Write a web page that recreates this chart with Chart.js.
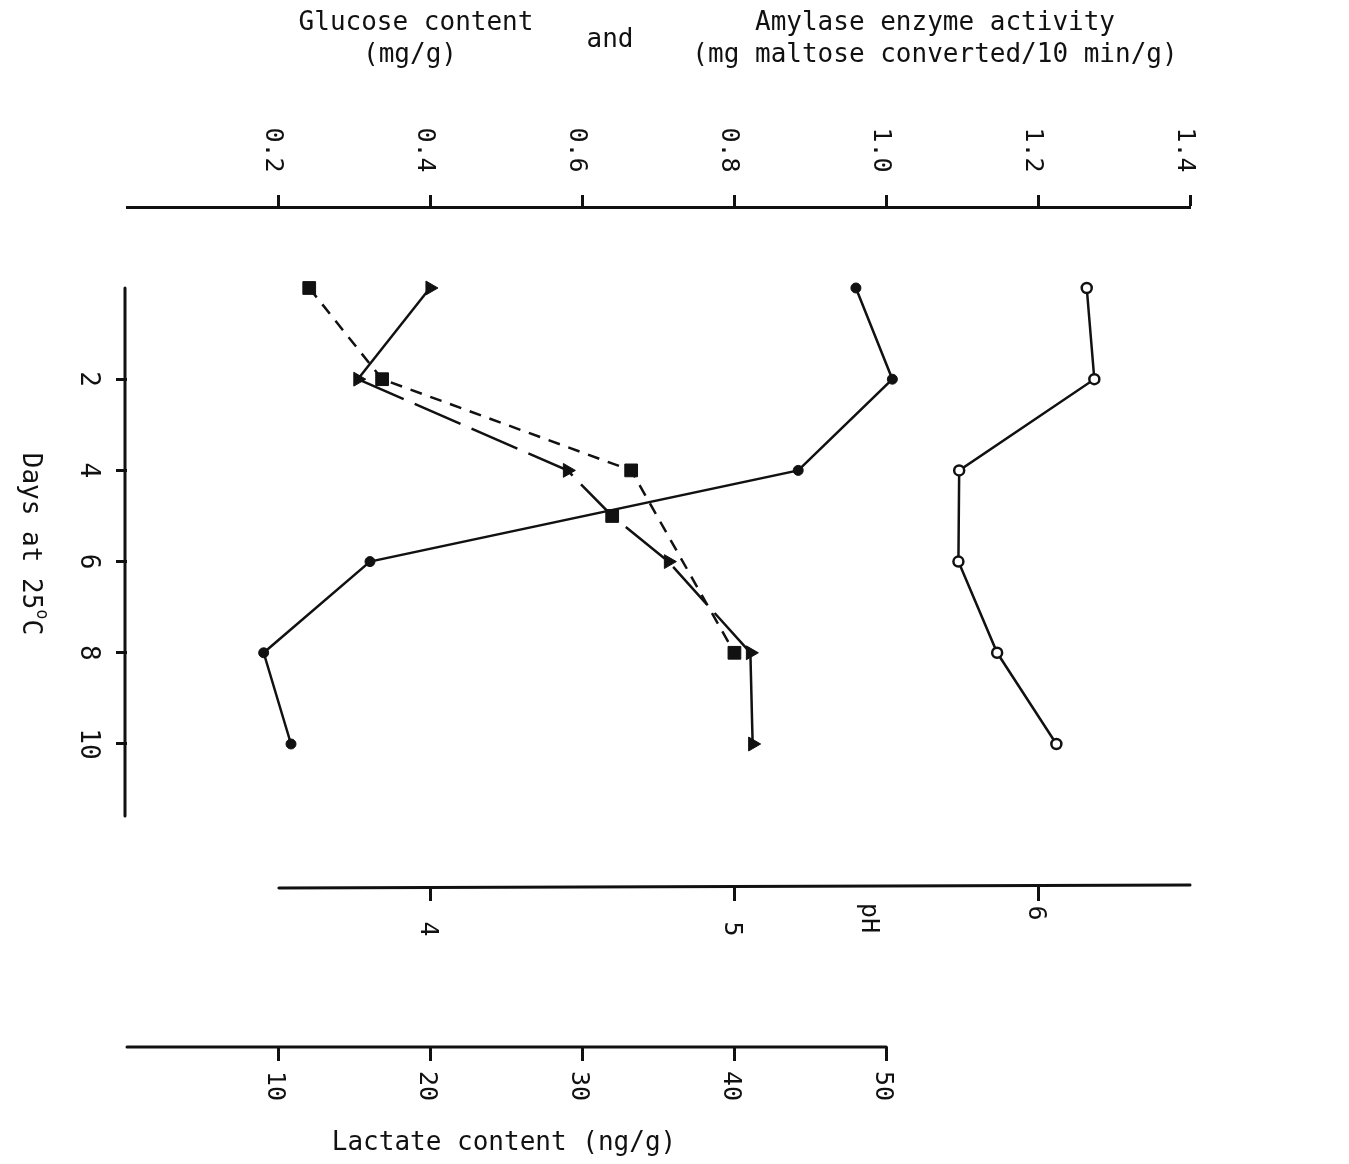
<!DOCTYPE html>
<html>
<head>
<meta charset="utf-8">
<script src="https://cdn.jsdelivr.net/npm/chart.js@4.4.1/dist/chart.umd.min.js"></script>
<style>
  html, body { margin: 0; padding: 0; background: #ffffff; }
  #wrap { width: 1349px; height: 1164px; position: relative; }
  canvas { display: block; }
</style>
</head>
<body>
<div id="wrap"><canvas id="c" width="1349" height="1164"></canvas></div>
<script>
// ---------------- data ----------------
const days = [0, 2, 4, 6, 8, 10];
const amylaseActivity = [1.264, 1.274, 1.096, 1.095, 1.146, 1.224];   // open circles, top axis
const phValues = [5.40, 5.52, 5.21, 3.80, 3.45, 3.54];                // filled circles, pH axis
const glucoseDays = [0, 2, 4, 5, 6, 8, 10];
const glucoseContent = [0.399, 0.304, 0.580, 0.639, 0.713, 0.821, 0.824]; // triangles, top axis
const lactateDays = [0, 2, 4, 8];
const lactateContent = [12.0, 16.8, 33.2, 40.0];                      // squares, lactate axis

const topTicks = [0.2, 0.4, 0.6, 0.8, 1.0, 1.2, 1.4];
const topTickLabels = ['0.2', '0.4', '0.6', '0.8', '1.0', '1.2', '1.4'];
const dayTicks = [2, 4, 6, 8, 10];
const dayTickLabels = ['2', '4', '6', '8', '10'];
const phTicks = [4, 5, 6];
const phTickLabels = ['4', '5', '6'];
const lactateTicks = [10, 20, 30, 40, 50];
const lactateTickLabels = ['10', '20', '30', '40', '50'];

const titleGlucose = ['Glucose content', '(mg/g)'];
const titleAnd = 'and';
const titleAmylase = ['Amylase enzyme activity', '(mg maltose converted/10 min/g)'];
const titleDays = ['Days at 25', 'o', 'C'];
const titlePH = 'pH';
const titleLactate = 'Lactate content (ng/g)';

// ---------------- styling ----------------
const ink = '#111111';
const FONT = "'DejaVu Sans Mono', 'Liberation Mono', monospace";

function pts(xs, ys) { return xs.map((d, i) => ({ x: ys[i], y: d })); }
function fixTicks(list) { return s => { s.ticks = list.map(v => ({ value: v })); }; }

function tickGrid(len) {
  return { display: true, drawOnChartArea: false, drawTicks: true, tickLength: len,
           tickWidth: 3, tickColor: ink, color: ink };
}

const lastG = glucoseDays.length - 1;

const labelsPlugin = {
  id: 'customText',
  afterDraw(chart) {
    const ctx = chart.ctx;
    const sx = chart.scales.x, sy = chart.scales.y, sp = chart.scales.xPH, sl = chart.scales.xLac;
    ctx.save();
    ctx.strokeStyle = ink;
    ctx.fillStyle = ink;
    ctx.lineWidth = 3;
    ctx.lineCap = 'round';

    // days axis line (day 0 to end)
    const ax = chart.chartArea.left - 2;
    ctx.beginPath();
    ctx.moveTo(ax, sy.getPixelForValue(0));
    ctx.lineTo(ax, sy.getPixelForValue(11.58));
    ctx.stroke();
    // pH axis line
    const py = sp.top;
    ctx.beginPath();
    ctx.moveTo(sp.getPixelForValue(3.5), py + 1);
    ctx.lineTo(sp.getPixelForValue(6.5), py - 2);
    ctx.stroke();
    // lactate axis line
    const ly = sl.top;
    ctx.beginPath();
    ctx.moveTo(sl.getPixelForValue(0), ly);
    ctx.lineTo(sl.getPixelForValue(50), ly);
    ctx.stroke();

    const rot = (text, x, y, size, align) => {
      ctx.save();
      ctx.translate(x, y);
      ctx.rotate(Math.PI / 2);
      ctx.font = size + 'px ' + FONT;
      ctx.textAlign = align || 'center';
      ctx.textBaseline = 'middle';
      ctx.fillText(text, 0, 0);
      ctx.restore();
    };

    // top axis tick labels
    topTicks.forEach((v, i) => rot(topTickLabels[i], sx.getPixelForValue(v) - 6, 150, 25));
    // day tick labels
    dayTicks.forEach((v, i) => rot(dayTickLabels[i], 88, sy.getPixelForValue(v), 26));
    // pH tick labels
    phTicks.forEach((v, i) => {
      const off = v === 6 ? 26 : 42;
      rot(phTickLabels[i], sp.getPixelForValue(v) - 3, py + off, 25);
    });
    rot(titlePH, sp.getPixelForValue(5.44), py + 31, 25);
    // lactate tick labels
    lactateTicks.forEach((v, i) => rot(lactateTickLabels[i], sl.getPixelForValue(v) - 4, ly + 39, 25));

    // Days title, rotated, with superscript
    ctx.save();
    ctx.font = '26px ' + FONT;
    const w0 = ctx.measureText(titleDays[0]).width;
    ctx.font = '17px ' + FONT;
    const w1 = ctx.measureText(titleDays[1]).width;
    ctx.font = '26px ' + FONT;
    const w2 = ctx.measureText(titleDays[2]).width;
    const total = w0 + w1 + w2;
    ctx.translate(30, 544);
    ctx.rotate(Math.PI / 2);
    ctx.textBaseline = 'middle';
    ctx.textAlign = 'left';
    ctx.font = '26px ' + FONT;
    ctx.fillText(titleDays[0], -total / 2, 0);
    ctx.font = '17px ' + FONT;
    ctx.fillText(titleDays[1], -total / 2 + w0, -11);
    ctx.font = '26px ' + FONT;
    ctx.fillText(titleDays[2], -total / 2 + w0 + w1, 0);
    ctx.restore();

    // horizontal titles
    ctx.font = '26px ' + FONT;
    ctx.textAlign = 'center';
    ctx.textBaseline = 'middle';
    ctx.fillText(titleGlucose[0], 416, 23);
    ctx.fillText(titleGlucose[1], 410, 55);
    ctx.fillText(titleAnd, 610, 40);
    ctx.fillText(titleAmylase[0], 935, 23);
    ctx.fillText(titleAmylase[1], 935, 55);
    ctx.fillText(titleLactate, 504, 1143);
    ctx.restore();
  }
};

new Chart(document.getElementById('c'), {
  type: 'line',
  data: {
    datasets: [
      {
        label: 'Amylase enzyme activity',
        data: pts(days, amylaseActivity),
        xAxisID: 'x', yAxisID: 'y',
        borderColor: ink, borderWidth: 2.5,
        pointStyle: 'circle', pointRadius: 5, pointBorderWidth: 2.5,
        pointBackgroundColor: '#ffffff', pointBorderColor: ink,
        fill: false, tension: 0
      },
      {
        label: 'pH',
        data: pts(days, phValues),
        xAxisID: 'xPH', yAxisID: 'y',
        borderColor: ink, borderWidth: 2.5,
        pointStyle: 'circle', pointRadius: 5, pointBorderWidth: 1,
        pointBackgroundColor: ink, pointBorderColor: ink,
        fill: false, tension: 0
      },
      {
        label: 'Glucose content',
        data: pts(glucoseDays, glucoseContent),
        xAxisID: 'x', yAxisID: 'y',
        borderColor: ink, borderWidth: 2.5,
        pointStyle: glucoseDays.map((d, i) => i === 3 ? 'rect' : 'triangle'),
        pointRadius: glucoseDays.map((d, i) => i === 3 ? 9 : 8),
        pointRotation: 90, pointBorderWidth: 1,
        pointBackgroundColor: ink, pointBorderColor: ink,
        segment: {
          borderDash: c => (c.p0DataIndex === 0 || c.p1DataIndex === lastG) ? [] : [50, 12]
        },
        fill: false, tension: 0
      },
      {
        label: 'Lactate content',
        data: pts(lactateDays, lactateContent),
        xAxisID: 'xLac', yAxisID: 'y',
        borderColor: ink, borderWidth: 2.5, borderDash: [12, 9],
        pointStyle: 'rect', pointRadius: 9, pointBorderWidth: 1,
        pointBackgroundColor: ink, pointBorderColor: ink,
        fill: false, tension: 0
      }
    ]
  },
  options: {
    responsive: false,
    animation: false,
    devicePixelRatio: 1,
    layout: { padding: { left: 127, right: 159, top: 207, bottom: 0 } },
    plugins: { legend: { display: false }, tooltip: { enabled: false }, title: { display: false } },
    scales: {
      x: {
        type: 'linear', position: 'top', min: 0, max: 1.4,
        afterFit: s => { s.height = 0; },
        afterBuildTicks: fixTicks(topTicks),
        grid: tickGrid(12),
        border: { display: true, width: 3, color: ink },
        ticks: { display: false }
      },
      y: {
        type: 'linear', position: 'left', reverse: true, min: -1.776, max: 13.136,
        afterFit: s => { s.width = 0; },
        afterBuildTicks: fixTicks(dayTicks),
        grid: tickGrid(11),
        border: { display: false },
        ticks: { display: false }
      },
      xPH: {
        type: 'linear', position: 'bottom', weight: 0, min: 3.0, max: 6.5,
        afterFit: s => { s.height = 160; },
        afterBuildTicks: fixTicks(phTicks),
        grid: tickGrid(14),
        border: { display: false },
        ticks: { display: false }
      },
      xLac: {
        type: 'linear', position: 'bottom', weight: 1, min: 0, max: 70,
        afterFit: s => { s.height = 117; },
        afterBuildTicks: fixTicks(lactateTicks),
        grid: tickGrid(14),
        border: { display: false },
        ticks: { display: false }
      }
    }
  },
  plugins: [labelsPlugin]
});
</script>
</body>
</html>
